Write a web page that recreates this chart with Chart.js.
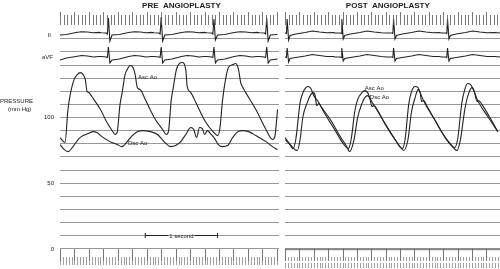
<!DOCTYPE html>
<html lang="en">
<head>
<meta charset="UTF-8">
<title>Pre / Post Angioplasty</title>
<script src="https://cdn.jsdelivr.net/npm/chart.js"></script>
<style>
  body { margin: 0; background: #fff; }
  .wrap { position: relative; width: 500px; height: 269px; }
  canvas { position: absolute; top: 0; }
  #pre { left: 0; }
  #post { left: 285px; }
</style>
</head>
<body>
<div class="wrap">
  <canvas id="pre" width="279" height="269"></canvas>
  <canvas id="post" width="215" height="269"></canvas>
</div>
<script>
// time in seconds from the left edge of each panel, pressure in mm Hg, ECG in mV
const GRID_LEVELS = [0, 10, 20, 30, 40, 50, 60, 70, 80, 90, 100, 110, 120, 130, 140, 150, 160];
const PRESSURE_TICKS = [0, 50, 100];

const PRE_ASC = [[0,84.8],[0.07,81.0],[0.11,106.1],[0.18,126.6],[0.24,132.7],[0.28,134.2],[0.32,132.7],[0.35,128.9],[0.375,119.8],[0.40,119.0],[0.44,116.0],[0.56,106.1],[0.65,96.2],[0.74,88.6],[0.76,87.1],[0.79,88.6],[0.83,109.9],[0.86,119.0],[0.90,132.7],[0.93,136.5],[0.97,139.6],[1.01,138.1],[1.04,132.7],[1.07,122.8],[1.11,121.3],[1.18,113.7],[1.32,98.5],[1.42,90.9],[1.47,87.1],[1.50,89.3],[1.54,113.7],[1.57,123.6],[1.61,136.5],[1.65,141.1],[1.69,141.9],[1.74,136.5],[1.76,123.6],[1.81,119.0],[1.88,111.4],[2.01,97.0],[2.13,88.6],[2.18,86.3],[2.21,90.9],[2.25,113.7],[2.29,128.9],[2.33,138.1],[2.39,140.3],[2.43,141.1],[2.47,136.5],[2.50,126.6],[2.53,122.8],[2.57,119.0],[2.71,106.1],[2.85,90.9],[2.94,83.3],[2.97,84.8],[3.01,106.1]];
const PRE_DSC = [[0,79.5],[0.06,75.6],[0.11,74.1],[0.18,77.9],[0.25,83.3],[0.32,86.3],[0.39,87.8],[0.46,89.3],[0.51,88.6],[0.58,85.5],[0.69,81.7],[0.79,79.5],[0.86,77.9],[0.93,81.7],[1.00,86.3],[1.07,89.3],[1.15,90.1],[1.25,89.3],[1.35,87.1],[1.44,81.7],[1.53,77.9],[1.60,78.7],[1.67,81.7],[1.74,87.1],[1.81,92.4],[1.85,90.9],[1.89,84.8],[1.93,92.4],[1.97,91.6],[2.00,87.1],[2.04,90.1],[2.08,87.8],[2.14,84.0],[2.19,79.5],[2.25,77.9],[2.32,78.7],[2.39,84.8],[2.46,89.3],[2.53,90.1],[2.61,89.3],[2.71,86.3],[2.85,81.7],[2.94,77.9],[3.01,75.6]];
const POST_ASC = [[0,84.8],[0.06,80.2],[0.11,76.4],[0.15,83.3],[0.21,111.4],[0.25,119.0],[0.29,122.8],[0.32,123.6],[0.36,122.1],[0.40,116.7],[0.46,112.2],[0.56,102.3],[0.69,90.9],[0.81,80.2],[0.88,76.4],[0.92,83.3],[0.97,104.6],[1.01,113.7],[1.07,119.0],[1.11,120.5],[1.15,119.0],[1.19,113.7],[1.25,108.4],[1.39,95.4],[1.53,83.3],[1.63,76.4],[1.67,83.3],[1.72,109.9],[1.76,119.8],[1.81,123.6],[1.85,122.8],[1.89,117.5],[1.94,111.4],[2.08,98.5],[2.22,85.5],[2.36,77.2],[2.40,83.3],[2.46,111.4],[2.50,121.3],[2.54,125.9],[2.58,125.2],[2.63,119.8],[2.68,112.9],[2.82,100.8],[2.96,89.3]];
const POST_DSC = [[0,83.3],[0.07,79.5],[0.17,74.9],[0.21,83.3],[0.25,100.8],[0.31,111.4],[0.35,116.7],[0.39,119.0],[0.42,116.7],[0.44,109.1],[0.47,110.6],[0.51,107.6],[0.63,98.5],[0.76,86.3],[0.85,78.7],[0.90,74.1],[0.96,83.3],[1.01,100.0],[1.07,110.6],[1.11,115.2],[1.15,116.7],[1.18,114.4],[1.21,108.4],[1.24,109.1],[1.28,106.1],[1.39,95.4],[1.53,83.3],[1.60,77.9],[1.65,74.9],[1.71,83.3],[1.76,104.6],[1.81,115.2],[1.85,121.3],[1.88,119.0],[1.90,112.2],[1.93,113.0],[1.97,109.1],[2.08,98.5],[2.22,85.5],[2.32,78.7],[2.39,74.9],[2.44,83.3],[2.50,106.1],[2.54,116.0],[2.60,122.8],[2.63,120.5],[2.67,112.2],[2.69,113.0],[2.74,109.9],[2.85,100.0],[2.96,89.3]];

const PRE_II = [[0,-0.2],[0.09,-0.15],[0.22,0.05],[0.30,0.12],[0.38,0.1],[0.46,0.02],[0.54,0.06],
  [0.57,0.02],[0.64,0],[0.655,-0.1],[0.67,1.5],[0.69,-0.8],[0.72,-0.2],[0.82,-0.15],[0.95,0.05],[1.03,0.12],[1.11,0.1],[1.19,0.02],[1.27,0.06],
  [1.30,0.02],[1.37,0],[1.385,-0.1],[1.40,1.6],[1.42,-0.8],[1.45,-0.2],[1.55,-0.15],[1.68,0.05],[1.76,0.12],[1.84,0.1],[1.92,0.02],[2.00,0.06],
  [2.03,0.02],[2.10,0],[2.115,-0.1],[2.13,1.4],[2.15,-0.7],[2.18,-0.2],[2.28,-0.15],[2.41,0.05],[2.49,0.12],[2.57,0.1],[2.65,0.02],[2.73,0.06],
  [2.76,0.02],[2.83,0],[2.845,-0.1],[2.86,1.5],[2.88,-0.8],[2.91,-0.2],[3.01,-0.15]];
const PRE_AVF = [[0,-0.3],[0.09,-0.1],[0.22,0.05],[0.30,0.15],[0.38,0.1],[0.46,0],[0.54,0.05],
  [0.57,0.05],[0.64,0],[0.655,-0.05],[0.67,1.0],[0.69,-0.6],[0.72,-0.3],[0.82,-0.2],[0.95,0.05],[1.03,0.15],[1.11,0.1],[1.19,0],[1.27,0.05],
  [1.30,0.05],[1.37,0],[1.385,-0.05],[1.40,1.0],[1.42,-0.6],[1.45,-0.3],[1.55,-0.2],[1.68,0.05],[1.76,0.15],[1.84,0.1],[1.92,0],[2.00,0.05],
  [2.03,0.05],[2.10,0],[2.115,-0.05],[2.13,1.0],[2.15,-0.6],[2.18,-0.3],[2.28,-0.2],[2.41,0.05],[2.49,0.15],[2.57,0.1],[2.65,0],[2.73,0.05],
  [2.76,0.05],[2.83,0],[2.845,-0.05],[2.86,1.0],[2.88,-0.6],[2.91,-0.3],[3.01,-0.2]];
const POST_II = [[0,0],[0.02,-0.05],[0.03,1.4],[0.05,-0.7],[0.07,-0.25],[0.15,-0.1],[0.28,0.05],[0.38,0.2],[0.48,0.1],[0.58,0.02],[0.68,0.05],
  [0.69,0],[0.77,0],[0.78,-0.05],[0.79,1.4],[0.81,-0.6],[0.83,-0.25],[0.91,-0.1],[1.04,0.05],[1.14,0.2],[1.24,0.1],[1.34,0.02],
  [1.41,0],[1.49,0],[1.50,-0.05],[1.51,1.4],[1.53,-0.6],[1.55,-0.25],[1.63,-0.1],[1.76,0.05],[1.86,0.2],[1.96,0.1],[2.06,0.02],[2.14,0.05],
  [2.18,0],[2.24,0],[2.25,-0.05],[2.26,1.4],[2.28,-0.6],[2.30,-0.25],[2.38,-0.1],[2.51,0.05],[2.61,0.2],[2.71,0.1],[2.81,0.02],[2.91,0.05],[2.99,0]];
const POST_AVF = [[0,0],[0.02,-0.05],[0.03,0.9],[0.05,-0.5],[0.07,-0.15],[0.15,-0.05],[0.28,0.1],[0.38,0.25],[0.48,0.15],[0.58,0.05],[0.68,0.05],
  [0.69,0],[0.77,0],[0.78,-0.05],[0.79,0.9],[0.81,-0.4],[0.83,-0.15],[0.91,-0.05],[1.04,0.1],[1.14,0.25],[1.24,0.15],[1.34,0.05],
  [1.41,0],[1.49,0],[1.50,-0.05],[1.51,0.9],[1.53,-0.4],[1.55,-0.15],[1.63,-0.05],[1.76,0.1],[1.86,0.25],[1.96,0.15],[2.06,0.05],[2.14,0.05],
  [2.18,0],[2.24,0],[2.25,-0.05],[2.26,0.9],[2.28,-0.4],[2.30,-0.15],[2.38,-0.05],[2.51,0.1],[2.61,0.25],[2.71,0.15],[2.81,0.05],[2.91,0.05],[2.99,0]];

const INK = '#222';
const GRID = '#8c8c8c';
const FONT = '"Liberation Sans", Arial, sans-serif';

function pts(arr) { return arr.map(([t, v]) => ({ x: t, y: v })); }

function line(ctx, x1, y1, x2, y2) {
  ctx.beginPath(); ctx.moveTo(x1, y1); ctx.lineTo(x2, y2); ctx.stroke();
}

// rulers, titles and labels, all placed through the chart's scales
const panelDecor = {
  id: 'panelDecor',
  afterDatasetsDraw(chart, args, o) {
    const { ctx, scales: { x, y, ii, avf } } = chart;
    ctx.save();
    ctx.strokeStyle = '#555';
    ctx.lineWidth = 0.8;
    for (let k = 0; k * 0.05 <= x.max + 1e-6; k++) {
      const px = Math.round(x.getPixelForValue(k * 0.05)) + 0.5;
      line(ctx, px, k % 4 === 0 ? 12 : 15, px, 25);
    }
    const y0 = y.getPixelForValue(0);
    for (let k = 0; k * 0.2 <= x.max + 1e-6; k++) {
      const px = Math.round(x.getPixelForValue(k * 0.2)) + 0.5;
      line(ctx, px, y0, px, y0 + 12);
    }
    ctx.strokeStyle = '#777';
    ctx.lineWidth = 0.7;
    for (let k = 0; k * 0.04 <= x.max + 1e-6; k++) {
      const px = Math.round(x.getPixelForValue(k * 0.04)) + 0.5;
      if (o.doubleRow) {
        line(ctx, px, y0 + 8, px, y0 + 12);
        line(ctx, px, y0 + 14, px, y0 + 19);
      } else {
        line(ctx, px, y0 + 8, px, y0 + 16);
      }
    }

    ctx.fillStyle = INK;
    ctx.font = 'bold 8px ' + FONT;
    ctx.textAlign = 'center';
    ctx.textBaseline = 'middle';
    ctx.fillText(o.title, x.getPixelForValue(o.titleAt), 6);

    ctx.font = '6px ' + FONT;
    ctx.textAlign = 'left';
    o.labels.forEach(l => ctx.fillText(l.text, x.getPixelForValue(l.t), y.getPixelForValue(l.p)));

    if (o.axisText) {
      ctx.textAlign = 'right';
      PRESSURE_TICKS.forEach(v => ctx.fillText(String(v), 54, y.getPixelForValue(v)));
      ctx.fillText('II', 51, ii.getPixelForValue(0) + 2);
      ctx.fillText('aVF', 53, avf.getPixelForValue(0));
      ctx.textAlign = 'left';
      ctx.fillText('PRESSURE', 0, y.getPixelForValue(112.5));
      ctx.fillText('(mm Hg)', 8, y.getPixelForValue(106.5));
    }

    if (o.second) {
      const s = o.second;
      const xa = x.getPixelForValue(s.from), xb = x.getPixelForValue(s.to);
      const py = Math.round(y.getPixelForValue(s.p)) + 0.5;
      const xm = (xa + xb) / 2;
      ctx.strokeStyle = INK;
      ctx.lineWidth = 1;
      line(ctx, xa, py, xm - 13, py);
      line(ctx, xm + 13, py, xb, py);
      line(ctx, xa, py - 2.5, xa, py + 2.5);
      line(ctx, xb, py - 2.5, xb, py + 2.5);
      ctx.textAlign = 'center';
      ctx.fillText('1 second', xm, py + 0.5);
    }
    ctx.restore();
  }
};

function makePanel(id, span, asc, dsc, ecgII, ecgAvf, decor) {
  const trace = (data, yAxisID, smooth) => ({
    data: pts(data), yAxisID, borderColor: INK, borderWidth: 1.1,
    pointRadius: 0, tension: 0, cubicInterpolationMode: smooth ? 'monotone' : 'default'
  });
  return new Chart(document.getElementById(id), {
    type: 'line',
    data: {
      datasets: [
        trace(asc, 'y', true),
        trace(dsc, 'y', true),
        trace(ecgII, 'ii', false),
        trace(ecgAvf, 'avf', false)
      ]
    },
    options: {
      responsive: false,
      animation: false,
      layout: { padding: { left: decor.axisText ? 60 : 0, right: 0, top: 0, bottom: 0 }, autoPadding: false },
      plugins: { legend: { display: false }, tooltip: { enabled: false }, panelDecor: decor },
      scales: {
        x: { type: 'linear', min: 0, max: span, display: false },
        y: {
          min: -15.22, max: 189.46,
          afterBuildTicks: s => { s.ticks = GRID_LEVELS.map(v => ({ value: v })); },
          ticks: { display: false },
          border: { display: false },
          grid: {
            drawTicks: false,
            color: GRID,
            lineWidth: c => (decor.doubleRow && c.tick && c.tick.value === 0) ? 2.2 : 0.9
          }
        },
        ii: { min: -23.6, max: 3.3, display: false },
        avf: { min: -21.2, max: 5.7, display: false }
      }
    },
    plugins: [panelDecor]
  });
}

makePanel('pre', 3.03, PRE_ASC, PRE_DSC, PRE_II, PRE_AVF, {
  title: 'PRE  ANGIOPLASTY', titleAt: 1.68, axisText: true, doubleRow: false,
  labels: [{ text: 'Asc Ao', t: 1.08, p: 130.5 }, { text: 'Dsc Ao', t: 0.94, p: 80.2 }],
  second: { from: 1.18, to: 2.18, p: 11 }
});
makePanel('post', 2.99, POST_ASC, POST_DSC, POST_II, POST_AVF, {
  title: 'POST  ANGIOPLASTY', titleAt: 1.43, axisText: false, doubleRow: true,
  labels: [{ text: 'Asc Ao', t: 1.11, p: 122.1 }, { text: 'Dsc Ao', t: 1.18, p: 115.2 }]
});
</script>
</body>
</html>
